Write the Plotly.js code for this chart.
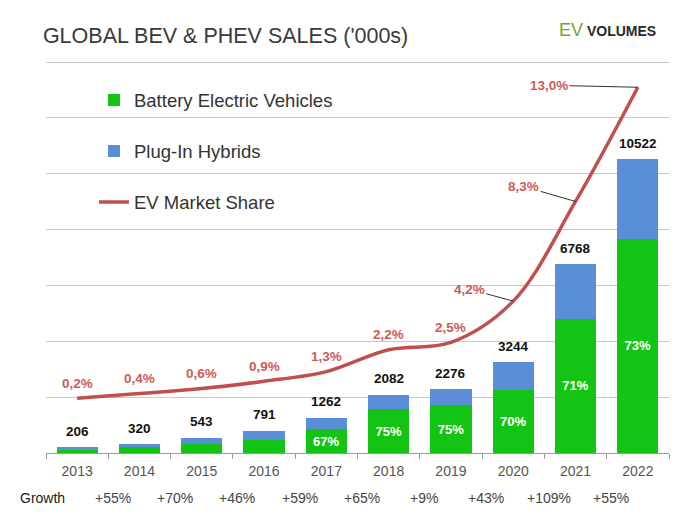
<!DOCTYPE html>
<html>
<head>
<meta charset="utf-8">
<script src="https://cdn.plot.ly/plotly-3.0.1.min.js"></script>
<style>
  html, body { margin: 0; padding: 0; background: #ffffff; }
  #chart { width: 692px; height: 526px; }
</style>
</head>
<body>
<div id="chart"></div>
<script>
// ---- data ----
const years = ['2013', '2014', '2015', '2016', '2017', '2018', '2019', '2020', '2021', '2022'];
const totalSales = [206, 320, 543, 791, 1262, 2082, 2276, 3244, 6768, 10522];
const bevShare = [0.60, 0.62, 0.60, 0.61, 0.67, 0.75, 0.75, 0.70, 0.71, 0.73];
const bevShareLabels = ['', '', '', '', '67%', '75%', '75%', '70%', '71%', '73%'];
const marketShare = [0.2, 0.4, 0.6, 0.9, 1.3, 2.2, 2.5, 4.2, 8.3, 13.0];
const marketShareLabels = ['0,2%', '0,4%', '0,6%', '0,9%', '1,3%', '2,2%', '2,5%', '4,2%', '8,3%', '13,0%'];
const growthLabels = ['+55%', '+70%', '+46%', '+59%', '+65%', '+9%', '+43%', '+109%', '+55%'];

// derived series
const bevSales = totalSales.map((t, i) => Math.round(t * bevShare[i]));
const phevSales = totalSales.map((t, i) => t - bevSales[i]);

const FONT = 'Liberation Sans, Arial, sans-serif';
const GREEN = '#14c414';
const BLUE = '#5a8ed6';
const RED = '#c0504d';
const LABEL_RED = '#d05a57';

const traces = [
  {
    type: 'bar', name: 'Battery Electric Vehicles', x: years, y: bevSales,
    marker: { color: GREEN }, legendgroup: 'g1',
    text: bevShareLabels, textposition: 'inside', insidetextanchor: 'middle',
    textangle: 0, constraintext: 'none',
    textfont: { family: FONT, size: 13, color: '#ffffff', weight: 'bold' },
    hoverinfo: 'skip'
  },
  {
    type: 'bar', name: 'Plug-In Hybrids', x: years, y: phevSales,
    marker: { color: BLUE }, legendgroup: 'g2', hoverinfo: 'skip'
  },
  {
    type: 'scatter', mode: 'lines', name: 'EV Market Share', x: years, y: marketShare,
    yaxis: 'y2', line: { color: RED, width: 3.5, shape: 'spline', smoothing: 1 },
    legendgroup: 'g3', hoverinfo: 'skip'
  }
];

const annotations = [];

// total labels above bars (x given as category index)
years.forEach((yr, i) => {
  annotations.push({
    x: i, y: totalSales[i], xref: 'x', yref: 'y', showarrow: false,
    text: '<b>' + totalSales[i] + '</b>', yanchor: 'middle', yshift: 16,
    font: { family: FONT, size: 13.5, color: '#111111' }
  });
});

// market share labels
const arrowOffsets = { 7: [-44, -12], 8: [-52, -15], 9: [-89, -2] };
years.forEach((yr, i) => {
  if (arrowOffsets[i]) {
    annotations.push({
      x: i, y: marketShare[i], xref: 'x', yref: 'y2', showarrow: true,
      arrowhead: 0, arrowwidth: 1, arrowcolor: '#333333', standoff: 0,
      ax: arrowOffsets[i][0], ay: arrowOffsets[i][1],
      text: '<b>' + marketShareLabels[i] + '</b>',
      font: { family: FONT, size: 13.5, color: LABEL_RED }
    });
  } else {
    annotations.push({
      x: i, y: marketShare[i], xref: 'x', yref: 'y2', showarrow: false,
      text: '<b>' + marketShareLabels[i] + '</b>', yanchor: 'middle', yshift: 15,
      font: { family: FONT, size: 13.5, color: LABEL_RED }
    });
  }
});

// growth row
annotations.push({
  x: -0.045, xref: 'paper', xanchor: 'left', y: 0, yref: 'paper', yanchor: 'middle', yshift: -45,
  showarrow: false, text: 'Growth', font: { family: FONT, size: 14, color: '#1a1a1a' }
});
growthLabels.forEach((g, j) => {
  annotations.push({
    x: (j + 1) - 0.43, xref: 'x', y: 0, yref: 'paper', yanchor: 'middle', yshift: -45,
    showarrow: false, text: g, font: { family: FONT, size: 14, color: '#444444' }
  });
});

// logo
annotations.push({
  x: 0.9825, xref: 'paper', xanchor: 'right', y: 1.08, yref: 'paper', yanchor: 'middle',
  showarrow: false,
  text: '<span style="color:#6aab2e;font-size:18px">EV</span> <b>VOLUMES</b>',
  font: { family: FONT, size: 14, color: '#2a2a2a' }
});

const layout = {
  width: 692, height: 526,
  margin: { l: 46, r: 23, t: 61, b: 73, pad: 0 },
  paper_bgcolor: '#ffffff', plot_bgcolor: '#ffffff',
  font: { family: FONT, color: '#333333' },
  title: {
    text: "GLOBAL BEV &amp; PHEV SALES ('000s)",
    x: 0.062, xanchor: 'left', xref: 'container',
    y: 1 - 35 / 526, yanchor: 'middle', yref: 'container',
    font: { family: FONT, size: 21.5, color: '#3a3a3a' }
  },
  barmode: 'stack', bargap: 0.34,
  showlegend: true,
  legend: {
    x: 0.077, xanchor: 'left', y: 0.948, yanchor: 'top',
    traceorder: 'grouped', tracegroupgap: 24,
    font: { family: FONT, size: 18.5, color: '#333333' },
    bgcolor: 'rgba(0,0,0,0)', borderwidth: 0
  },
  xaxis: {
    type: 'category', range: [-0.5, years.length - 0.5], autorange: false,
    showgrid: false, zeroline: false,
    showline: true, linecolor: '#9a9a9a', linewidth: 1,
    ticks: 'outside', tickson: 'boundaries', ticklen: 5, tickcolor: '#9a9a9a',
    ticklabelstandoff: 5,
    tickfont: { family: FONT, size: 14, color: '#555555' },
    fixedrange: true
  },
  yaxis: {
    range: [0, 14040], autorange: false, dtick: 2000, tick0: 0,
    showgrid: true, gridcolor: '#c8c8c8', gridwidth: 1,
    zeroline: false, showticklabels: false, ticks: '', showline: false,
    fixedrange: true
  },
  yaxis2: {
    overlaying: 'y', side: 'right', range: [-2.05, 14.08], autorange: false,
    showgrid: false, zeroline: false, showticklabels: false, showline: false, ticks: '',
    fixedrange: true
  },
  annotations: annotations
};

Plotly.newPlot('chart', traces, layout, { displayModeBar: false, staticPlot: true });
</script>
</body>
</html>
